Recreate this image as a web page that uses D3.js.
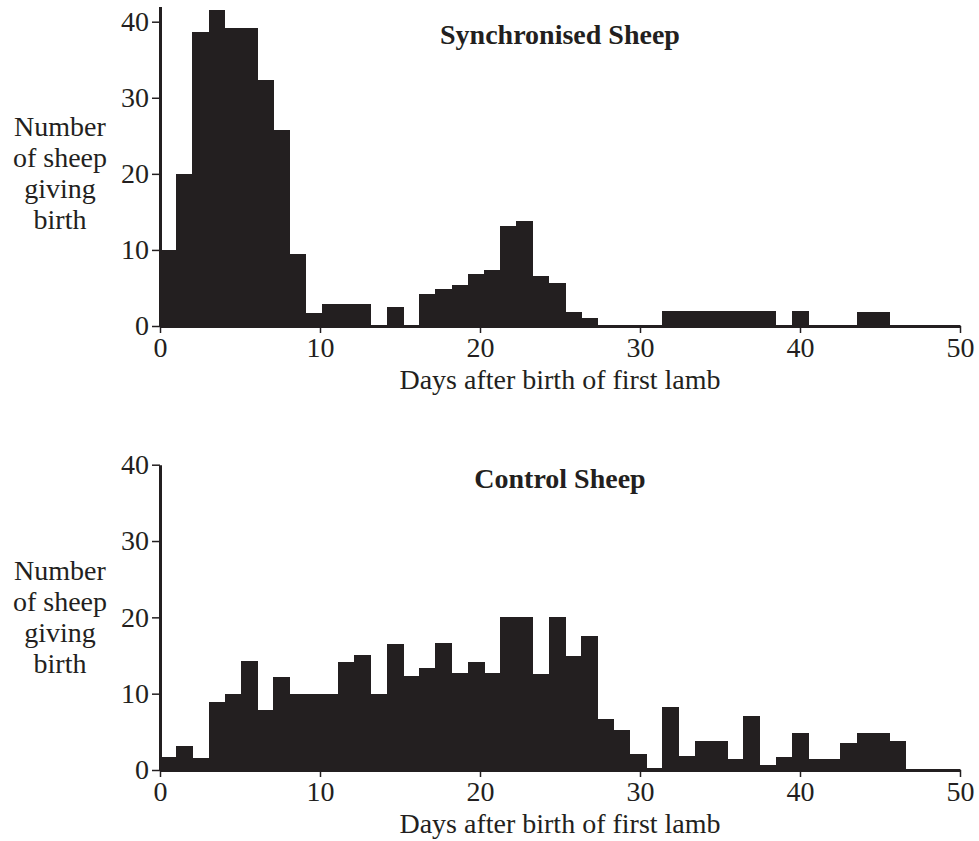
<!DOCTYPE html>
<html>
<head>
<meta charset="utf-8">
<script src="https://cdn.jsdelivr.net/npm/d3@7"></script>
<style>
  body { margin: 0; background: #fff; }
  text { font-family: "Liberation Serif", "Times New Roman", serif; fill: #231f20; }
</style>
</head>
<body>
<div id="chart"></div>
<script>
// counts per one-day bin, starting at day 0
const syncCounts = [10, 20, 38.7, 41.5, 39.2, 39.2, 32.4, 25.7, 9.4, 1.7,
  2.9, 2.9, 2.9, 0, 2.5, 0, 4.2, 4.8, 5.4, 6.9,
  7.4, 13.1, 13.8, 6.6, 5.6, 1.8, 1.05, 0, 0, 0,
  0, 2, 2, 2, 2, 2, 2, 2, 0, 2,
  0, 0, 0, 1.8, 1.8];
const controlCounts = [1.7, 3.2, 1.6, 8.9, 9.9, 14.3, 7.9, 12.2, 10, 10,
  10, 14.1, 15.1, 10, 16.5, 12.3, 13.4, 16.7, 12.7, 14.2,
  12.7, 20.1, 20.1, 12.6, 20.1, 15.0, 17.6, 6.7, 5.2, 2.05,
  0.2, 8.2, 1.8, 3.8, 3.8, 1.4, 7.1, 0.7, 1.7, 4.9,
  1.5, 1.5, 3.5, 4.9, 4.9, 3.8];
const xTicks = [0, 10, 20, 30, 40, 50];
const yTicks = [0, 10, 20, 30, 40];
const yLabelLines = ["Number", "of sheep", "giving", "birth"];
const xLabel = "Days after birth of first lamb";

const width = 979, height = 841;
const ink = "#231f20";
const binW = 1.0125; // the printed bins run slightly wider than one axis day

const svg = d3.select("#chart").append("svg")
    .attr("width", width)
    .attr("height", height);

const x = d3.scaleLinear().domain([0, 50]).range([160, 960]);

function panel(counts, title, top, yMax, zeroY, fortyY) {
    const pxPer = (zeroY - fortyY) / 40;
    const y = d3.scaleLinear().domain([0, yMax]).range([zeroY, zeroY - yMax * pxPer]);
    const g = svg.append("g");

    g.selectAll("rect")
        .data(counts)
        .enter().append("rect")
        .attr("x", (d, i) => x(i * binW))
        .attr("width", (d, i) => x((i + 1) * binW) - x(i * binW) + 0.6)
        .attr("y", d => y(d))
        .attr("height", d => y(0) - y(d))
        .attr("shape-rendering", "crispEdges")
        .attr("fill", ink);

    const xAxis = g.append("g")
        .attr("transform", `translate(0,${zeroY})`)
        .call(d3.axisBottom(x).tickValues(xTicks).tickSize(7).tickSizeOuter(0).tickPadding(4));
    const yAxis = g.append("g")
        .attr("transform", `translate(${x(0)},0)`)
        .call(d3.axisLeft(y).tickValues(yTicks).tickSize(8).tickSizeOuter(0).tickPadding(3));

    [xAxis, yAxis].forEach(a => {
        a.select(".domain").attr("stroke", ink).attr("stroke-width", 3);
        a.selectAll(".tick line").attr("stroke", ink).attr("stroke-width", 1.5);
        a.selectAll(".tick text")
            .attr("fill", ink)
            .style("font-family", '"Liberation Serif", serif')
            .style("font-size", "28px");
    });

    g.append("text")
        .attr("x", 560)
        .attr("y", top + 44)
        .attr("text-anchor", "middle")
        .style("font-size", "28px")
        .style("font-weight", "bold")
        .text(title);

    g.append("text")
        .attr("x", 560)
        .attr("y", zeroY + 63)
        .attr("text-anchor", "middle")
        .style("font-size", "28px")
        .text(xLabel);

    g.append("text")
        .attr("text-anchor", "middle")
        .style("font-size", "28px")
        .selectAll("tspan")
        .data(yLabelLines)
        .enter().append("tspan")
        .attr("x", 60)
        .attr("y", (d, i) => top + 136 + i * 31)
        .text(d => d);
}

panel(syncCounts, "Synchronised Sheep", 0, 42, 326, 21.7);
panel(controlCounts, "Control Sheep", 444, 40, 770, 464.7);
</script>
</body>
</html>
